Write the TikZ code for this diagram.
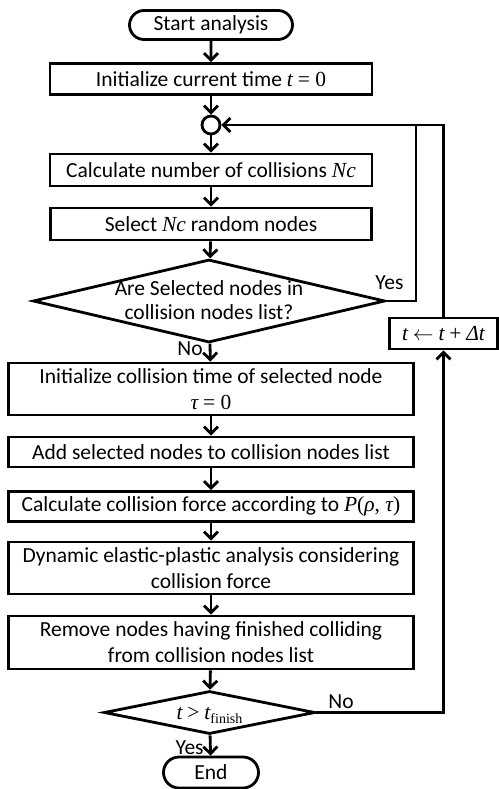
\documentclass[tikz,border=0pt]{standalone}
\usepackage{fontspec}
\setmainfont{Carlito}
\newfontfamily\tms{Liberation Serif}
\usetikzlibrary{shapes.misc,shapes.geometric,arrows.meta}
% italic variables and upright symbols in a Times-like face
\newcommand{\mv}[1]{{\tms\itshape #1}}
\newcommand{\up}[1]{{\tms #1}}
% text placed inside a diamond without enlarging it
\newcommand{\zerobox}[2]{\raisebox{#1}[0pt][0pt]{\makebox[0pt]{#2}}}
\begin{document}
\begin{tikzpicture}[x=1pt,y=-1pt,
  font=\fontsize{21.5}{26}\selectfont,
  every node/.style={line width=2.8pt},
  terminal/.style={draw,rounded rectangle,inner sep=0pt},
  procbox/.style={draw,rectangle,inner sep=0pt,align=center},
  decision/.style={draw,diamond,inner sep=0pt},
  flow/.style={line width=2.8pt,-{Straight Barb[length=7pt,width=14pt,line width=2.8pt]}},
  plain/.style={line width=2.8pt},
  lbl/.style={inner sep=0pt}]
\useasboundingbox (0,0) rectangle (498,789);

\node[terminal,minimum width=163pt,minimum height=29pt] (start) at (211,25) {Start analysis};
\node[procbox,minimum width=322pt,minimum height=31pt] (init) at (211,79)
  {Initialize current time \mv{t} \up{= 0}};
\node[draw,circle,minimum size=18pt,inner sep=0pt] (join) at (211,125) {};
\node[procbox,minimum width=322pt,minimum height=32pt] (count) at (211,170)
  {Calculate number of collisions \mv{Nc}};
\node[procbox,minimum width=321pt,minimum height=32pt] (pick) at (211,224)
  {Select \mv{Nc} random nodes};
\node[decision,minimum width=352pt,minimum height=83pt] (inlist) at (209,301)
  {\zerobox{-6pt}{\begin{tabular}{@{}c@{}}Are Selected nodes in\\[-2pt] collision nodes list?\end{tabular}}};
\node[procbox,minimum width=405pt,minimum height=52pt] (tau) at (211,389)
  {Initialize collision time of selected node\\ \up{\itshape τ} \up{= 0}};
\node[procbox,minimum width=405pt,minimum height=30pt] (add) at (211,452)
  {Add selected nodes to collision nodes list};
\node[procbox,minimum width=405pt,minimum height=30pt] (force) at (211,506.5)
  {Calculate collision force according to \mv{P}\up{(}\mv{ρ}\up{, }\mv{τ}\up{)}};
\node[procbox,minimum width=405pt,minimum height=52pt] (dyn) at (211,568)
  {Dynamic elastic-plastic analysis considering\\ collision force};
\node[procbox,minimum width=405pt,minimum height=53pt] (remove) at (211,642.5)
  {Remove nodes having finished colliding\\ from collision nodes list};
\node[decision,minimum width=211pt,minimum height=43pt] (done) at (209.5,712.5)
  {\zerobox{-7pt}{\mv{t} \up{>} \mv{t}\raisebox{-4pt}{\up{\fontsize{14}{14}\selectfont finish}}}};
\node[terminal,minimum width=95pt,minimum height=31pt] (stop) at (211,772.5) {End};
\node[procbox,minimum width=108pt,minimum height=31pt] (advance) at (443.5,333.5)
  {\mv{t} $\leftarrow$ \mv{t} \up{+} \mv{Δt}};

\coordinate (yescorner) at (416,125);

% main chain
\draw[flow] (start) -- (init);
\draw[flow] (init) -- (join);
\draw[flow] (join) -- (count);
\draw[flow] (count) -- (pick);
\draw[flow] (pick) -- (inlist);
\draw[flow] (inlist) -- (tau);
\draw[flow] (tau) -- (add);
\draw[flow] (add) -- (force);
\draw[flow] (force) -- (dyn);
\draw[flow] (dyn) -- (remove);
\draw[flow] (remove) -- (done);
\draw[flow] (done) -- (stop);

% loops back to the junction
\draw[plain] (inlist.east) -| (yescorner);
\draw[flow] (done.east) -| (advance.south);
\draw[flow] (advance.north) |- (join.east);

% branch labels
\node[lbl,anchor=south west] (yes1) at (374,291) {Yes};
\node[lbl,anchor=east] (no1) at (204,349) {No};
\node[lbl,anchor=south west] (no2) at (327,710) {No};
\node[lbl,anchor=east] (yes2) at (205,748) {Yes};
\end{tikzpicture}
\end{document}
